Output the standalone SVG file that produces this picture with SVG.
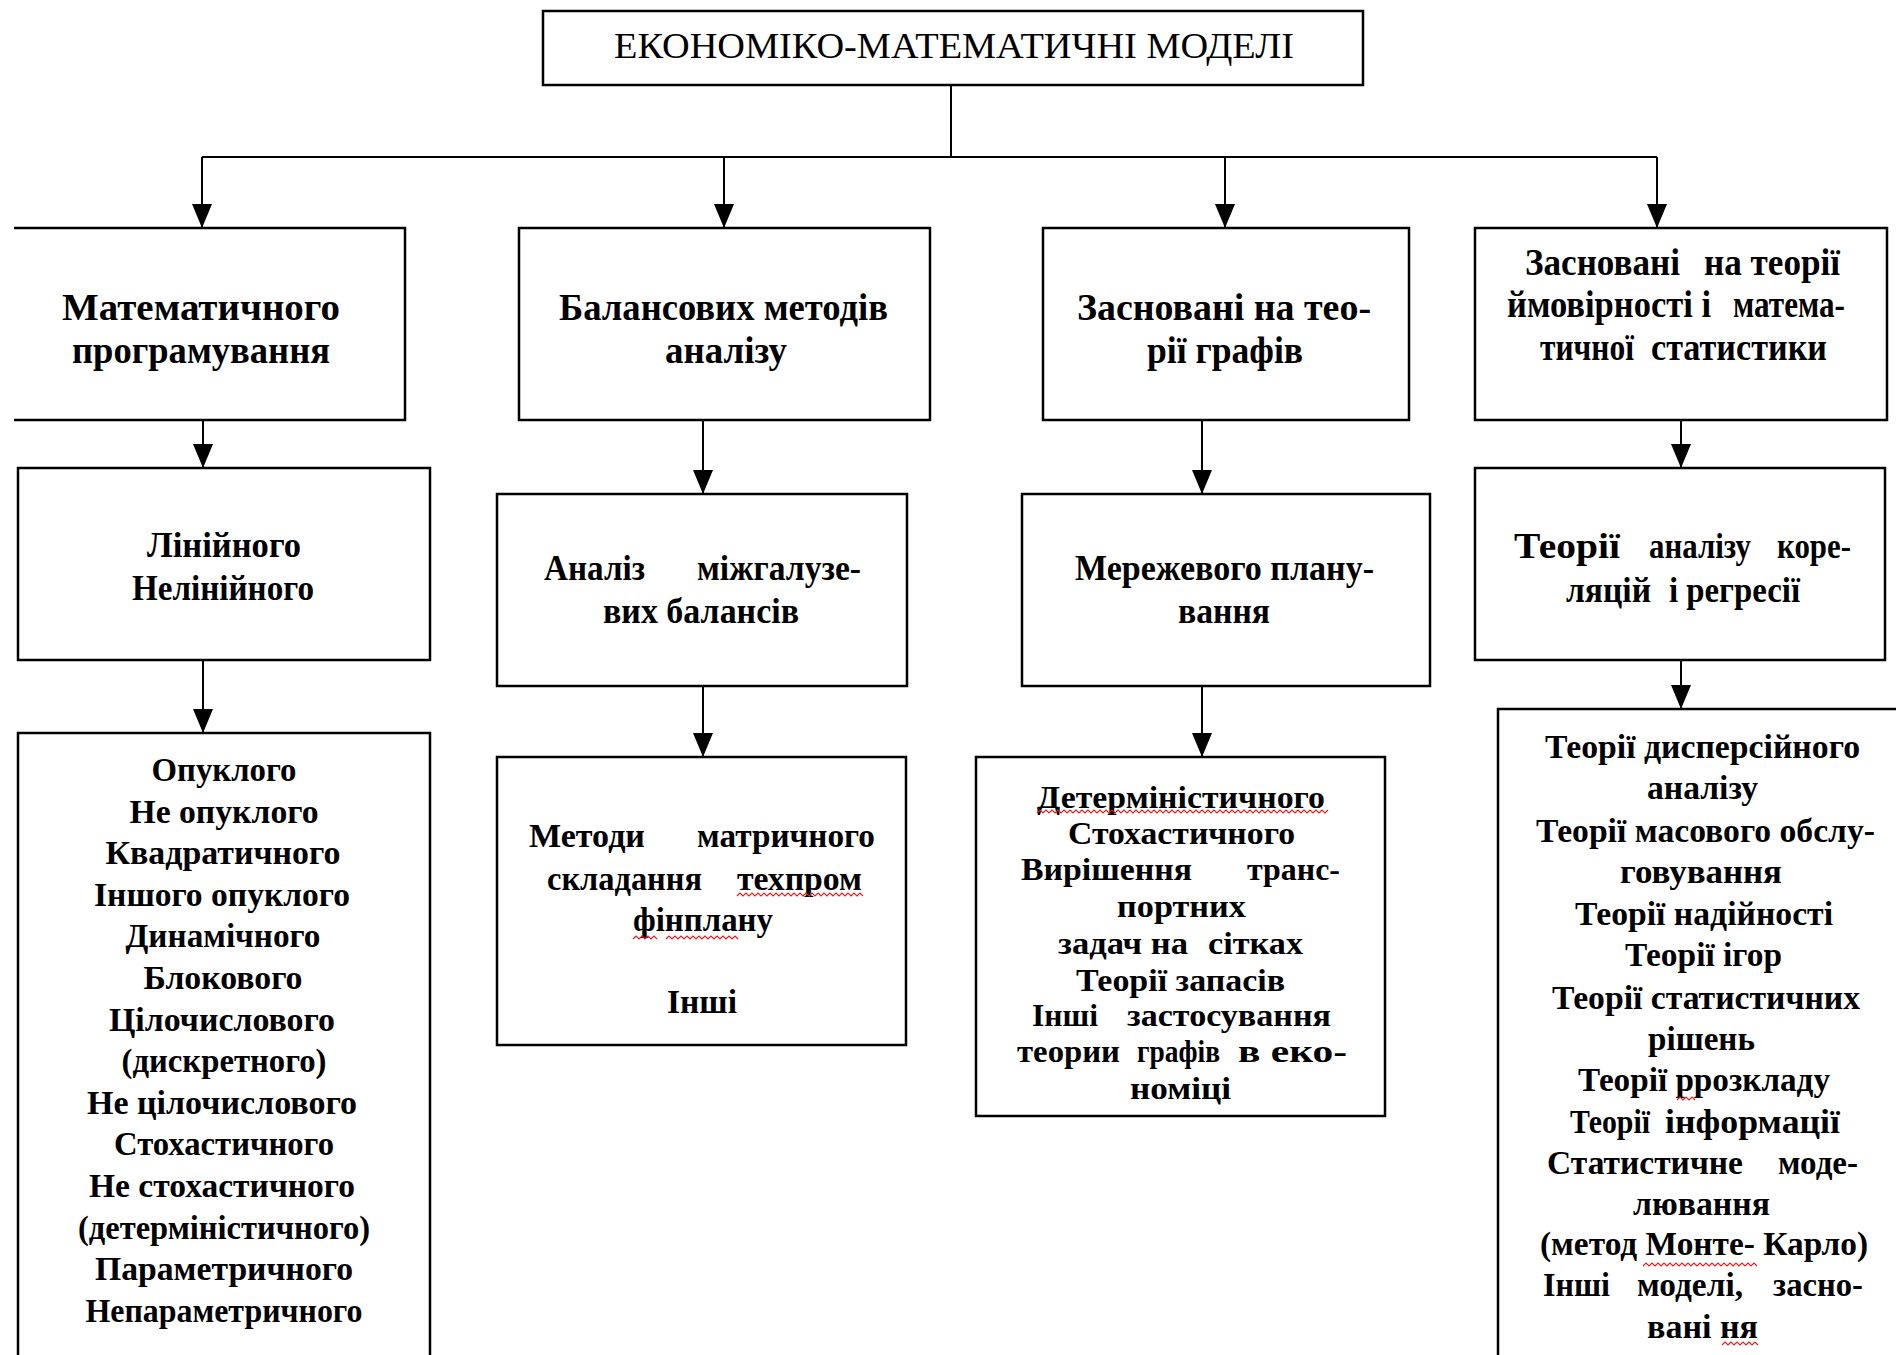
<svg xmlns="http://www.w3.org/2000/svg" width="1896" height="1355" viewBox="0 0 1896 1355">
<style>
.box{fill:#fff;stroke:#000;stroke-width:2.5}
.open{fill:none;stroke:#000;stroke-width:2.5}
.ln{fill:none;stroke:#000;stroke-width:2}
text{font-family:"Liberation Serif","Times New Roman",serif;fill:#000}
.t0{font-size:36px}
.t1{font-size:38px;font-weight:bold}
.t2{font-size:35px;font-weight:bold}
.t3{font-size:34px;font-weight:bold}
.t3s{font-size:32px;font-weight:bold}
.sq{fill:none;stroke:#e02020;stroke-width:1.2}
</style>
<defs>
<marker id="ah" viewBox="0 -10 24 20" refX="24" refY="0" markerWidth="24" markerHeight="20" markerUnits="userSpaceOnUse" orient="auto">
<path d="M0,-10 L24,0 L0,10 Z" fill="#000"/>
</marker>
</defs>
<rect width="1896" height="1355" fill="#fff"/>

<g id="connectors">
<path class="ln" d="M951,85 V157"/>
<path class="ln" d="M202,157 H1657"/>
<path class="ln" d="M202,157 V228" marker-end="url(#ah)"/>
<path class="ln" d="M724,157 V228" marker-end="url(#ah)"/>
<path class="ln" d="M1225,157 V228" marker-end="url(#ah)"/>
<path class="ln" d="M1657,157 V228" marker-end="url(#ah)"/>
<path class="ln" d="M203,420 V468" marker-end="url(#ah)"/>
<path class="ln" d="M703,420 V494" marker-end="url(#ah)"/>
<path class="ln" d="M1202,420 V494" marker-end="url(#ah)"/>
<path class="ln" d="M1681,420 V468" marker-end="url(#ah)"/>
<path class="ln" d="M203,660 V733" marker-end="url(#ah)"/>
<path class="ln" d="M703,686 V757" marker-end="url(#ah)"/>
<path class="ln" d="M1202,686 V757" marker-end="url(#ah)"/>
<path class="ln" d="M1681,660 V709" marker-end="url(#ah)"/>
</g>

<g id="root">
<rect class="box" x="543" y="11" width="820" height="74"/>
<text class="t0" x="614" y="58" textLength="680" lengthAdjust="spacingAndGlyphs">ЕКОНОМІКО-МАТЕМАТИЧНІ  МОДЕЛІ</text>
</g>

<g id="math-prog">
<path class="open" d="M14,228 H405 V420 H14"/>
<text class="t1" x="62" y="320" textLength="278" lengthAdjust="spacingAndGlyphs">Математичного</text>
<text class="t1" x="72" y="363" textLength="258" lengthAdjust="spacingAndGlyphs">програмування</text>
</g>

<g id="balance">
<rect class="box" x="519" y="228" width="411" height="192"/>
<text class="t1" x="559" y="320" textLength="329" lengthAdjust="spacingAndGlyphs">Балансових методів</text>
<text class="t1" x="665" y="363" textLength="122" lengthAdjust="spacingAndGlyphs">аналізу</text>
</g>

<g id="graphs">
<rect class="box" x="1043" y="228" width="366" height="192"/>
<text class="t1" x="1077" y="320" textLength="294" lengthAdjust="spacingAndGlyphs">Засновані на тео-</text>
<text class="t1" x="1147" y="363" textLength="156" lengthAdjust="spacingAndGlyphs">рії графів</text>
</g>

<g id="probability">
<rect class="box" x="1475" y="228" width="412" height="192"/>
<text class="t1" y="275"><tspan x="1525" textLength="155" lengthAdjust="spacingAndGlyphs">Засновані</tspan><tspan x="1704" textLength="136" lengthAdjust="spacingAndGlyphs">на теорії</tspan></text>
<text class="t1" y="317"><tspan x="1507" textLength="204" lengthAdjust="spacingAndGlyphs">ймовірності і</tspan><tspan x="1733" textLength="112" lengthAdjust="spacingAndGlyphs">матема-</tspan></text>
<text class="t1" y="360"><tspan x="1540" textLength="94" lengthAdjust="spacingAndGlyphs">тичної</tspan><tspan x="1651" textLength="176" lengthAdjust="spacingAndGlyphs">статистики</tspan></text>
</g>

<g id="linear">
<rect class="box" x="18" y="468" width="412" height="192"/>
<text class="t2" x="147" y="557" textLength="154" lengthAdjust="spacingAndGlyphs">Лінійного</text>
<text class="t2" x="132" y="600" textLength="182" lengthAdjust="spacingAndGlyphs">Нелінійного</text>
</g>

<g id="intersector">
<rect class="box" x="497" y="494" width="410" height="192"/>
<text class="t2" y="580"><tspan x="544" textLength="101" lengthAdjust="spacingAndGlyphs">Аналіз</tspan><tspan x="697" textLength="164" lengthAdjust="spacingAndGlyphs">міжгалузе-</tspan></text>
<text class="t2" x="603" y="623" textLength="196" lengthAdjust="spacingAndGlyphs">вих балансів</text>
</g>

<g id="network">
<rect class="box" x="1022" y="494" width="408" height="192"/>
<text class="t2" x="1075" y="580" textLength="299" lengthAdjust="spacingAndGlyphs">Мережевого плану-</text>
<text class="t2" x="1178" y="623" textLength="92" lengthAdjust="spacingAndGlyphs">вання</text>
</g>

<g id="correlation">
<rect class="box" x="1475" y="468" width="410" height="192"/>
<text class="t2" y="558"><tspan x="1514" textLength="106" lengthAdjust="spacingAndGlyphs">Теорії</tspan><tspan x="1649" textLength="102" lengthAdjust="spacingAndGlyphs">аналізу</tspan><tspan x="1777" textLength="74" lengthAdjust="spacingAndGlyphs">коре-</tspan></text>
<text class="t2" y="602"><tspan x="1566" textLength="85" lengthAdjust="spacingAndGlyphs">ляцій</tspan><tspan x="1669" textLength="131" lengthAdjust="spacingAndGlyphs">і регресії</tspan></text>
</g>

<g id="convex-list">
<path class="open" d="M18,1360 V733 H430 V1360"/>
<g text-anchor="middle">
<text class="t3" x="224" y="781" textLength="145" lengthAdjust="spacingAndGlyphs">Опуклого</text>
<text class="t3" x="224" y="823" textLength="189" lengthAdjust="spacingAndGlyphs">Не опуклого</text>
<text class="t3" x="223" y="864" textLength="235" lengthAdjust="spacingAndGlyphs">Квадратичного</text>
<text class="t3" x="222" y="906" textLength="256" lengthAdjust="spacingAndGlyphs">Іншого опуклого</text>
<text class="t3" x="223" y="947" textLength="195" lengthAdjust="spacingAndGlyphs">Динамічного</text>
<text class="t3" x="223" y="989" textLength="159" lengthAdjust="spacingAndGlyphs">Блокового</text>
<text class="t3" x="222" y="1031" textLength="226" lengthAdjust="spacingAndGlyphs">Цілочислового</text>
<text class="t3" x="224" y="1072" textLength="205" lengthAdjust="spacingAndGlyphs">(дискретного)</text>
<text class="t3" x="222" y="1114" textLength="270" lengthAdjust="spacingAndGlyphs">Не цілочислового</text>
<text class="t3" x="224" y="1155" textLength="220" lengthAdjust="spacingAndGlyphs">Стохастичного</text>
<text class="t3" x="222" y="1197" textLength="266" lengthAdjust="spacingAndGlyphs">Не стохастичного</text>
<text class="t3" x="224" y="1239" textLength="292" lengthAdjust="spacingAndGlyphs">(детерміністичного)</text>
<text class="t3" x="224" y="1280" textLength="258" lengthAdjust="spacingAndGlyphs">Параметричного</text>
<text class="t3" x="224" y="1322" textLength="277" lengthAdjust="spacingAndGlyphs">Непараметричного</text>
</g>
</g>

<g id="matrix-methods">
<rect class="box" x="497" y="757" width="409" height="288"/>
<text class="t3" y="847"><tspan x="529" textLength="116" lengthAdjust="spacingAndGlyphs">Методи</tspan><tspan x="697" textLength="178" lengthAdjust="spacingAndGlyphs">матричного</tspan></text>
<text class="t3" y="890"><tspan x="547" textLength="155" lengthAdjust="spacingAndGlyphs">складання</tspan><tspan x="737" textLength="125" lengthAdjust="spacingAndGlyphs">техпром</tspan></text>
<text class="t3" x="633" y="931" textLength="140" lengthAdjust="spacingAndGlyphs">фінплану</text>
<text class="t3" x="667" y="1013" textLength="70" lengthAdjust="spacingAndGlyphs">Інші</text>
</g>

<g id="graph-list">
<rect class="box" x="976" y="757" width="409" height="359"/>
<text class="t3s" x="1037" y="808" textLength="288" lengthAdjust="spacingAndGlyphs">Детерміністичного</text>
<text class="t3s" x="1068" y="844" textLength="227" lengthAdjust="spacingAndGlyphs">Стохастичного</text>
<text class="t3s" y="880"><tspan x="1021" textLength="171" lengthAdjust="spacingAndGlyphs">Вирішення</tspan><tspan x="1247" textLength="93" lengthAdjust="spacingAndGlyphs">транс-</tspan></text>
<text class="t3s" x="1117" y="917" textLength="129" lengthAdjust="spacingAndGlyphs">портних</text>
<text class="t3s" y="954"><tspan x="1058" textLength="130" lengthAdjust="spacingAndGlyphs">задач на</tspan><tspan x="1208" textLength="95" lengthAdjust="spacingAndGlyphs">сітках</tspan></text>
<text class="t3s" x="1076" y="991" textLength="209" lengthAdjust="spacingAndGlyphs">Теорії запасів</text>
<text class="t3s" y="1026"><tspan x="1032" textLength="66" lengthAdjust="spacingAndGlyphs">Інші</tspan><tspan x="1127" textLength="204" lengthAdjust="spacingAndGlyphs">застосування</tspan></text>
<text class="t3s" y="1062"><tspan x="1017" textLength="103" lengthAdjust="spacingAndGlyphs">теории</tspan><tspan x="1137" textLength="83" lengthAdjust="spacingAndGlyphs">графів</tspan><tspan x="1238" textLength="109" lengthAdjust="spacingAndGlyphs">в еко-</tspan></text>
<text class="t3s" x="1130" y="1099" textLength="101" lengthAdjust="spacingAndGlyphs">номіці</text>
</g>

<g id="stat-list">
<path class="open" d="M1498,1360 V709 H1900"/>
<text class="t3" x="1545" y="758" textLength="315" lengthAdjust="spacingAndGlyphs">Теорії дисперсійного</text>
<text class="t3" x="1647" y="799" textLength="111" lengthAdjust="spacingAndGlyphs">аналізу</text>
<text class="t3" x="1536" y="842" textLength="339" lengthAdjust="spacingAndGlyphs">Теорії масового обслу-</text>
<text class="t3" x="1620" y="883" textLength="162" lengthAdjust="spacingAndGlyphs">говування</text>
<text class="t3" x="1575" y="925" textLength="258" lengthAdjust="spacingAndGlyphs">Теорії надійності</text>
<text class="t3" x="1625" y="966" textLength="157" lengthAdjust="spacingAndGlyphs">Теорії ігор</text>
<text class="t3" x="1552" y="1009" textLength="308" lengthAdjust="spacingAndGlyphs">Теорії статистичних</text>
<text class="t3" x="1648" y="1050" textLength="107" lengthAdjust="spacingAndGlyphs">рішень</text>
<text class="t3" x="1578" y="1091" textLength="252" lengthAdjust="spacingAndGlyphs">Теорії ррозкладу</text>
<text class="t3" y="1133"><tspan x="1570" textLength="80" lengthAdjust="spacingAndGlyphs">Теорії</tspan><tspan x="1665" textLength="175" lengthAdjust="spacingAndGlyphs">інформації</tspan></text>
<text class="t3" y="1174"><tspan x="1547" textLength="196" lengthAdjust="spacingAndGlyphs">Статистичне</tspan><tspan x="1778" textLength="80" lengthAdjust="spacingAndGlyphs">моде-</tspan></text>
<text class="t3" x="1633" y="1215" textLength="137" lengthAdjust="spacingAndGlyphs">лювання</text>
<text class="t3" x="1540" y="1255" textLength="328" lengthAdjust="spacingAndGlyphs">(метод Монте- Карло)</text>
<text class="t3" y="1296"><tspan x="1543" textLength="67" lengthAdjust="spacingAndGlyphs">Інші</tspan><tspan x="1637" textLength="106" lengthAdjust="spacingAndGlyphs">моделі,</tspan><tspan x="1773" textLength="90" lengthAdjust="spacingAndGlyphs">засно-</tspan></text>
<text class="t3" x="1647" y="1338" textLength="111" lengthAdjust="spacingAndGlyphs">вані ня</text>
</g>

<g id="spellcheck-marks">
<path class="sq" d="M1037,813 l3,-3 l3,3 l3,-3 l3,3 l3,-3 l3,3 l3,-3 l3,3 l3,-3 l3,3 l3,-3 l3,3 l3,-3 l3,3 l3,-3 l3,3 l3,-3 l3,3 l3,-3 l3,3 l3,-3 l3,3 l3,-3 l3,3 l3,-3 l3,3 l3,-3 l3,3 l3,-3 l3,3 l3,-3 l3,3 l3,-3 l3,3 l3,-3 l3,3 l3,-3 l3,3 l3,-3 l3,3 l3,-3 l3,3 l3,-3 l3,3 l3,-3 l3,3 l3,-3 l3,3 l3,-3 l3,3 l3,-3 l3,3 l3,-3 l3,3 l3,-3 l3,3 l3,-3 l3,3 l3,-3 l3,3 l3,-3 l3,3 l3,-3 l3,3 l3,-3 l3,3 l3,-3 l3,3 l3,-3 l3,3 l3,-3 l3,3 l3,-3 l3,3 l3,-3 l3,3 l3,-3 l3,3 l3,-3 l3,3 l3,-3 l3,3 l3,-3 l3,3 l3,-3 l3,3 l3,-3 l3,3 l3,-3 l3,3 l3,-3 l3,3 l3,-3 l3,3 l3,-3 l3,3 l3,-3"/>
<path class="sq" d="M737,896 l3,-3 l3,3 l3,-3 l3,3 l3,-3 l3,3 l3,-3 l3,3 l3,-3 l3,3 l3,-3 l3,3 l3,-3 l3,3 l3,-3 l3,3 l3,-3 l3,3 l3,-3 l3,3 l3,-3 l3,3 l3,-3 l3,3 l3,-3 l3,3 l3,-3 l3,3 l3,-3 l3,3 l3,-3 l3,3 l3,-3 l3,3 l3,-3 l3,3 l3,-3 l3,3 l3,-3 l3,3 l3,-3 l3,3"/>
<path class="sq" d="M633,939 l3,-3 l3,3 l3,-3 l3,3 l3,-3 l3,3 l3,-3 l3,3 M666,939 l3,-3 l3,3 l3,-3 l3,3 l3,-3 l3,3 l3,-3 l3,3 l3,-3 l3,3 l3,-3 l3,3 l3,-3 l3,3 l3,-3 l3,3 l3,-3 l3,3 l3,-3 l3,3 l3,-3 l3,3 l3,-3 l3,3"/>
<path class="sq" d="M1677,1100 l3,-3 l3,3 l3,-3 l3,3 l3,-3 l3,3"/>
<path class="sq" d="M1643,1266 l3,-3 l3,3 l3,-3 l3,3 l3,-3 l3,3 l3,-3 l3,3 l3,-3 l3,3 l3,-3 l3,3 l3,-3 l3,3 l3,-3 l3,3 l3,-3 l3,3 l3,-3 l3,3 l3,-3 l3,3 l3,-3 l3,3 l3,-3 l3,3 l3,-3 l3,3 l3,-3 l3,3 l3,-3 l3,3 l3,-3 l3,3 l3,-3 l3,3 l3,-3 l3,3"/>
<path class="sq" d="M1722,1345 l3,-3 l3,3 l3,-3 l3,3 l3,-3 l3,3 l3,-3 l3,3 l3,-3 l3,3 l3,-3 l3,3"/>
</g>
</svg>
